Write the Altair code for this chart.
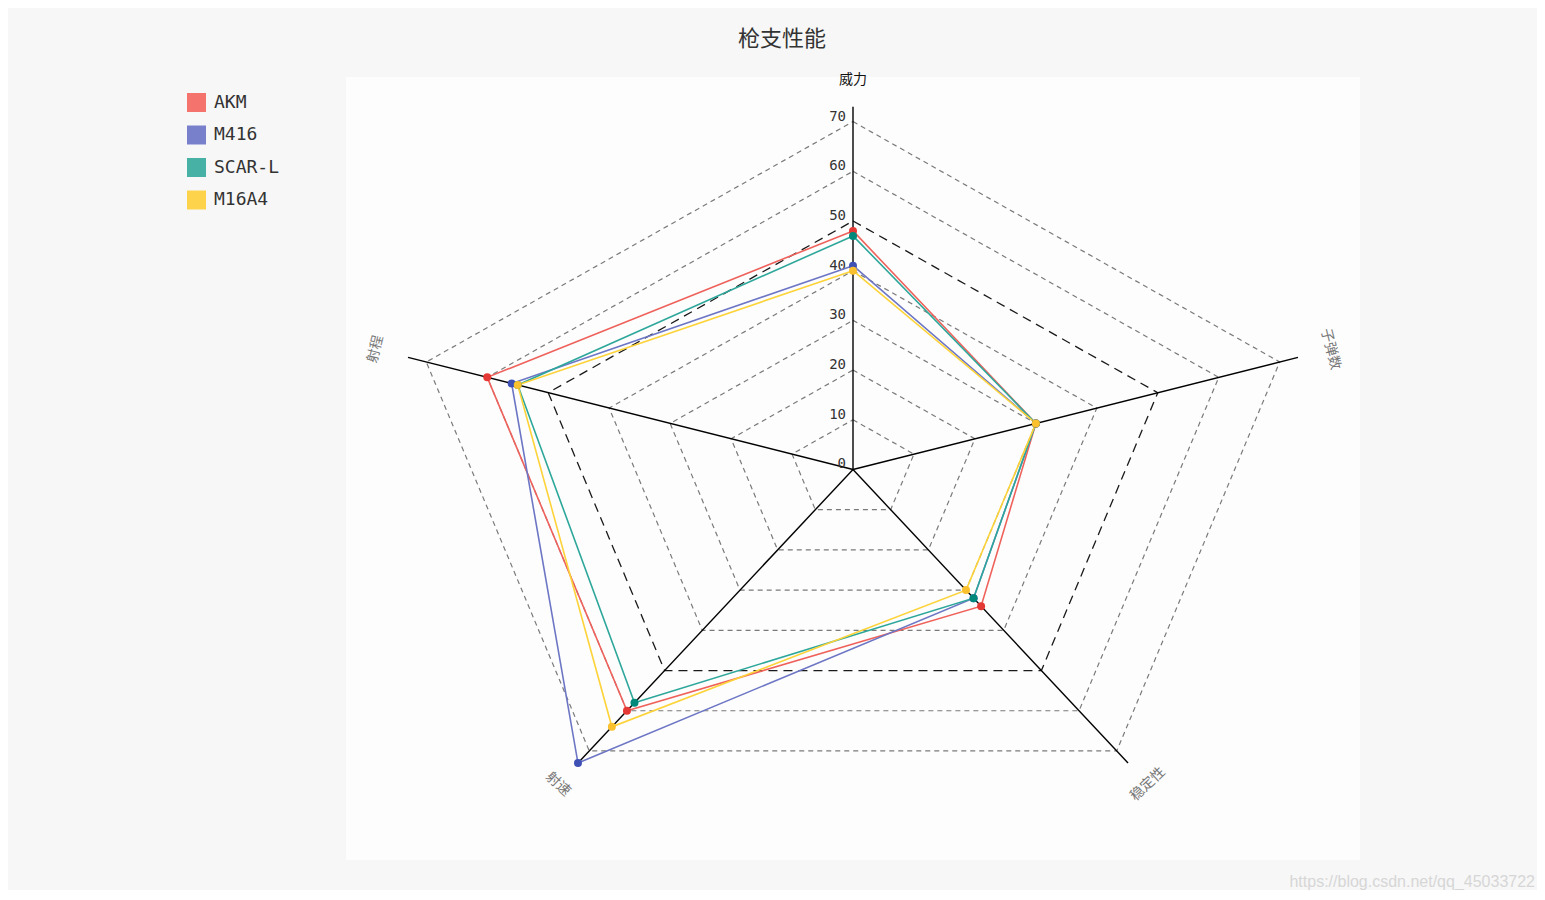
import altair as alt
import pandas as pd

# ---------------- data ----------------
indicators = ["威力", "子弹数", "稳定性", "射速", "射程"]
series_names = ["AKM", "M416", "SCAR-L", "M16A4"]
akm = [48, 30, 34, 60, 60]
m416 = [41, 30, 32, 73, 56]
scar_l = [47, 30, 32, 58, 55]
m16a4 = [40, 30, 30, 64, 55]
ring_levels = [10, 20, 30, 40, 50, 60, 70]
tick_values = [0, 10, 20, 30, 40, 50, 60, 70]
title_text = "枪支性能"
watermark_text = "https://blog.csdn.net/qq_45033722"

line_colors = ["#ef625c", "#6d76c4", "#2ea79b", "#fdd33a"]
legend_colors = ["#f5736d", "#7880cc", "#48b1a6", "#fed34c"]
point_colors = ["#e53935", "#3f51b5", "#00897b", "#fbc02d"]

# ---------------- tables built from the arrays ----------------
n = len(indicators)
series_values = [akm, m416, scar_l, m16a4]
axis_max = max(max(v) for v in series_values)
highlight_ring = 50

rows = []
for name, vals in zip(series_names, series_values):
    for i in range(n + 1):
        rows.append({"series": name, "idx": i, "indicator": indicators[i % n], "value": vals[i % n]})
series_df = pd.DataFrame(rows)
ring_df = pd.DataFrame([{"ring": lv, "idx": i} for lv in ring_levels for i in range(n + 1)])
spoke_df = pd.DataFrame({"indicator": indicators, "idx": list(range(n)), "r": [axis_max] * n})
tick_df = pd.DataFrame({"tick": tick_values, "label": [str(v) for v in tick_values]})
name_df = pd.DataFrame({"indicator": indicators, "idx": list(range(n))})
wm_df = pd.DataFrame({"t": [watermark_text]})

# ---------------- geometry ----------------
W, H = 1014, 783
XMIN, XMAX = -79.1, 79.1
YMIN, YMAX = -78.57, 78.97
px_x = W / (XMAX - XMIN)
px_y = H / (YMAX - YMIN)
name_r = 78.3

theta_expr = f"(90 - 360 / {n} * datum.idx) * PI / 180"
xs = alt.Scale(domain=[XMIN, XMAX], nice=False, zero=False)
ys = alt.Scale(domain=[YMIN, YMAX], nice=False, zero=False)


def X(f):
    return alt.X(f"{f}:Q", scale=xs, axis=None)


def Y(f):
    return alt.Y(f"{f}:Q", scale=ys, axis=None)


# rings
rings_base = alt.Chart(ring_df).transform_calculate(t=theta_expr).transform_calculate(
    x="datum.ring * cos(datum.t)", y="datum.ring * sin(datum.t)"
)
ring_grey = rings_base.transform_filter(f"datum.ring != {highlight_ring}").mark_line(
    color="#7a7a7a", strokeWidth=1.2, strokeDash=[5, 4]
).encode(x=X("x"), y=Y("y"), detail="ring:N", order="idx:Q")
ring_black = rings_base.transform_filter(f"datum.ring == {highlight_ring}").mark_line(
    color="#1a1a1a", strokeWidth=1.3, strokeDash=[9, 6]
).encode(x=X("x"), y=Y("y"), detail="ring:N", order="idx:Q")

# spokes
spokes = alt.Chart(spoke_df).transform_calculate(t=theta_expr).transform_calculate(
    x0="0", y0="0", x1="datum.r * cos(datum.t)", y1="datum.r * sin(datum.t)"
).mark_rule(color="#000000", strokeWidth=1.4).encode(
    x=X("x0"), y=Y("y0"), x2="x1:Q", y2="y1:Q"
)

# tick labels
ticks = alt.Chart(tick_df).transform_calculate(x0="0").mark_text(
    align="right", baseline="middle", dx=-7, dy=-5,
    font="DejaVu Sans Mono", fontSize=14, color="#333333"
).encode(x=X("x0"), y=Y("tick"), text="label:N")

# indicator names
names = alt.Chart(name_df).transform_calculate(t=theta_expr).transform_calculate(
    x=f"{name_r} * cos(datum.t)",
    y=f"{name_r} * sin(datum.t)",
    phi=f"atan2(-sin(datum.t) * {px_y}, cos(datum.t) * {px_x}) * 180 / PI",
).transform_calculate(
    rot0="datum.phi + 90"
).transform_calculate(
    rot1="datum.rot0 > 90 ? datum.rot0 - 180 : datum.rot0"
).transform_calculate(
    rot="(datum.rot1 + 360) % 360"
).mark_text(
    align="center", baseline="middle", font="Noto Sans CJK SC", fontSize=14
).encode(
    x=X("x"), y=Y("y"), text="indicator:N",
    angle=alt.Angle("rot:Q", scale=None),
    color=alt.condition("datum.idx == 0", alt.value("#111111"), alt.value("#777777")),
)

series_base = alt.Chart(series_df).transform_calculate(t=theta_expr).transform_calculate(
    x="datum.value * cos(datum.t)", y="datum.value * sin(datum.t)"
)

legend_layer = series_base.transform_filter(f"datum.idx < {n}").mark_square(
    opacity=0, size=1
).encode(
    x=X("x"), y=Y("y"),
    color=alt.Color(
        "series:N",
        scale=alt.Scale(domain=series_names, range=legend_colors),
        legend=alt.Legend(
            orient="none", legendX=-159, legendY=16, title=None,
            symbolType="square", symbolSize=361, symbolStrokeWidth=0, symbolOpacity=1,
            labelFont="DejaVu Sans Mono", labelFontSize=18, labelColor="#333333",
            rowPadding=13.5, labelOffset=8, padding=0,
        ),
    ),
)

lines = series_base.mark_line(strokeWidth=1.6).encode(
    x=X("x"), y=Y("y"), order="idx:Q",
    color=alt.Color("series:N", scale=alt.Scale(domain=series_names, range=line_colors), legend=None),
)

points = series_base.transform_filter(f"datum.idx < {n}").mark_point(
    filled=True, size=64, opacity=1, strokeWidth=0
).encode(
    x=X("x"), y=Y("y"),
    fill=alt.Fill("series:N", scale=alt.Scale(domain=series_names, range=point_colors), legend=None),
)

watermark = alt.Chart(wm_df).mark_text(
    align="right", baseline="middle", fontSize=16, color="#d6d6d6", font="Liberation Sans"
).encode(x=alt.value(1189), y=alt.value(805), text="t:N")

chart = alt.layer(
    ring_grey, ring_black, spokes, ticks, names, legend_layer, lines, points, watermark
).resolve_scale(color="independent").properties(
    width=W,
    height=H,
    title=alt.Title(
        title_text, fontSize=22, font="Noto Sans CJK SC", fontWeight="normal",
        color="#333333", anchor="middle", frame="group", dx=-71, offset=22,
    ),
    padding={"left": 338, "top": 69, "right": 177, "bottom": 30},
    autosize=alt.AutoSizeParams(type="none"),
    background="#f7f7f7",
).configure_view(fill="#fdfdfd", stroke=None)

chart.save("out.html", embed_options={"renderer": "svg", "actions": False})
